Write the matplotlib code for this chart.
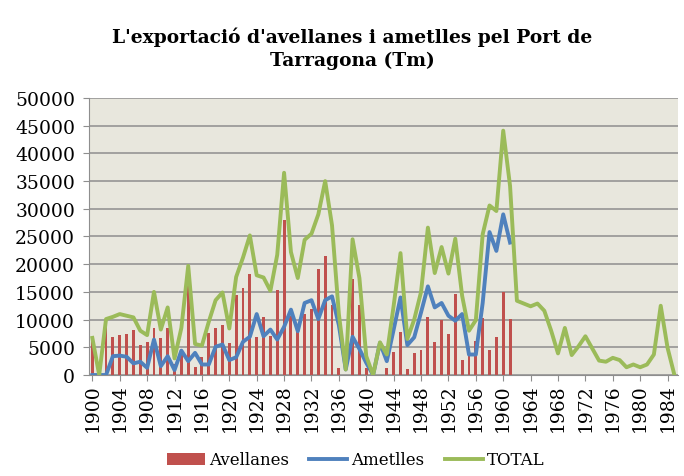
import matplotlib
matplotlib.use('Agg')
import matplotlib.pyplot as plt
import numpy as np

# Dades (Tm) llegides del gràfic
anys = list(range(1900, 1986))

avellanes = [6400, 0, 9700, 6900, 7200, 7400, 8200, 5400, 6000, 8500,
             6600, 8500, 2000, 4000, 16000, 1500, 3300, 7500, 8400, 9100,
             5700, 14500, 15700, 18300, 6800, 10500, 7000, 15300, 28000, 10700,
             8200, 11100, 11900, 19100, 21500, 12600, 1300, 0, 17400, 12600,
             1200, 0, 0, 1300, 4200, 7800, 1000, 4000, 4500, 10500,
             6000, 9900, 7400, 14700, 2700, 4900, 6200, 10300, 4600, 6900,
             14900, 10200]

ametlles = [0, 0, 0, 3400, 3500, 3300, 2100, 2400, 1300, 6400,
            1600, 3400, 900, 4400, 2500, 4000, 1900, 1900, 5100, 5500,
            2700, 3200, 6000, 6900, 11000, 7000, 8200, 6400, 8700, 11800,
            7900, 13000, 13500, 10100, 13500, 14200, 9000, 1000, 6900, 4700,
            2200, 0, 5800, 2500, 8200, 14000, 5400, 6800, 11300, 16000,
            12200, 13000, 10700, 9800, 11000, 3700, 3700, 13000, 25800, 22400,
            29000, 23900]

total = [6700, 0, 10100, 10500, 11000, 10700, 10400, 8000, 7200, 15000,
         8200, 12200, 3000, 8500, 19700, 5600, 5300, 9600, 13500, 14900,
         8400, 17700, 21200, 25200, 18000, 17600, 15200, 21700, 36500, 22200,
         17500, 24400, 25500, 29000, 35000, 27000, 11000, 1000, 24500, 17500,
         3400, 0, 5900, 3700, 12500, 22000, 6500, 10000, 15000, 26600,
         18400, 23100, 18300, 24600, 14300, 8000, 9900, 25400, 30600, 29600,
         44100, 34100, 13400, 12900, 12400, 12900, 11600, 8000, 3900, 8500,
         3600, 5200, 7000, 4800, 2600, 2400, 3100, 2700, 1400, 1900,
         1400, 1900, 3700, 12500, 4900, 0]

plt.rcParams['font.family'] = ['DejaVu Serif']

fig = plt.figure(figsize=(6.84, 4.77), dpi=100)
ax = fig.add_axes([0.130, 0.2117, 0.861, 0.5808])

x = np.arange(len(anys))
barres = ax.bar(x[:len(avellanes)], avellanes, width=0.42, color='#C0504D',
                label='Avellanes', zorder=2)
l_ame, = ax.plot(x[:len(ametlles)], ametlles, color='#4F81BD', lw=2.8,
                 label='Ametlles', zorder=3)
l_tot, = ax.plot(x, total, color='#9BBB59', lw=2.8, label='TOTAL', zorder=4)

ax.set_xlim(-0.5, len(anys) - 0.5)
ax.set_ylim(0, 50000)
ax.set_yticks(range(0, 50001, 5000))
ax.set_xticks(x[::4])
ax.set_xticklabels([str(a) for a in anys[::4]], rotation=90)
ax.tick_params(axis='both', labelsize=13.5, color='#8E8E8E', length=4)
ax.tick_params(axis='y', pad=6)
ax.tick_params(axis='x', pad=2)

# Fons i graella a l'estil Excel
ax.set_facecolor('#E8E7DD')
ax.yaxis.grid(True, color='#8E8E8E', lw=1.1)
ax.set_axisbelow(True)
for s in ['top', 'right']:
    ax.spines[s].set_visible(False)
for s in ['left', 'bottom']:
    ax.spines[s].set_color('#8E8E8E')

fig.text(0.515, 1 - 49 / 477,
         "L'exportació d'avellanes i ametlles pel Port de\nTarragona (Tm)",
         ha='center', va='center', fontsize=13.4, fontweight='bold',
         linespacing=1.3)

fig.legend([barres, l_ame, l_tot], ['Avellanes', 'Ametlles', 'TOTAL'],
           loc='center', bbox_to_anchor=(0.52, 1 - 461 / 477), ncol=3,
           frameon=False, fontsize=12, handlelength=2.3, columnspacing=1.2,
           handletextpad=0.25)

fig.savefig('out.png', dpi=100)
